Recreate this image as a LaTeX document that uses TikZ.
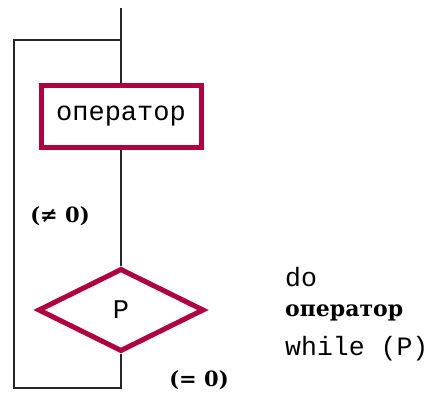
\documentclass[tikz,border=0pt]{standalone}
\usepackage{fontspec}
\setmainfont{DejaVu Serif}
\newfontfamily\monof{Liberation Mono}
\usetikzlibrary{shapes.geometric}
\definecolor{crim}{RGB}{176,0,64}
\begin{document}
\begin{tikzpicture}[x=1pt,y=-1pt,
  flow/.style={draw=black!85,line width=2pt},
  opbox/.style={draw=crim,line width=5pt,minimum width=160pt,minimum height=62pt,inner sep=0pt,font=\monof\fontsize{27}{30}\selectfont},
  cond/.style={draw=crim,line width=5pt,diamond,aspect=2,minimum width=166pt,minimum height=83pt,inner sep=0pt,font=\monof\fontsize{27}{30}\selectfont},
  lbl/.style={font=\bfseries\fontsize{21}{24}\selectfont,inner sep=0pt},
  code/.style={font=\monof\fontsize{26.5}{30}\selectfont,inner sep=0pt,anchor=west},
  codeb/.style={font=\bfseries\fontsize{22}{28}\selectfont,inner sep=0pt,anchor=west}]
\useasboundingbox (0,0) rectangle (431,393);
\node[opbox] (op) at (121,116.5) {оператор};
\node[cond] (P) at (121,310) {P};
\coordinate (top) at (121,8);
\coordinate (join) at (121,40);
\coordinate (tl) at (14,40);
\coordinate (bl) at (14,388);
\coordinate (br) at (121,388);
\draw[flow] (top) -- (op.north);
\draw[flow] (op.south) -- (P.north);
\draw[flow] (P.south) -- (br) -- (bl) -- (tl) -- (join);
\node[lbl] (ne) at (60,216) {(≠ 0)};
\node[lbl] (eq) at (199,380) {(= 0)};
\node[code] (c1) at (285,277) {do};
\node[codeb] (c2) at (285,313) {оператор};
\node[code] (c3) at (285,349) {while (P)};
\end{tikzpicture}
\end{document}
